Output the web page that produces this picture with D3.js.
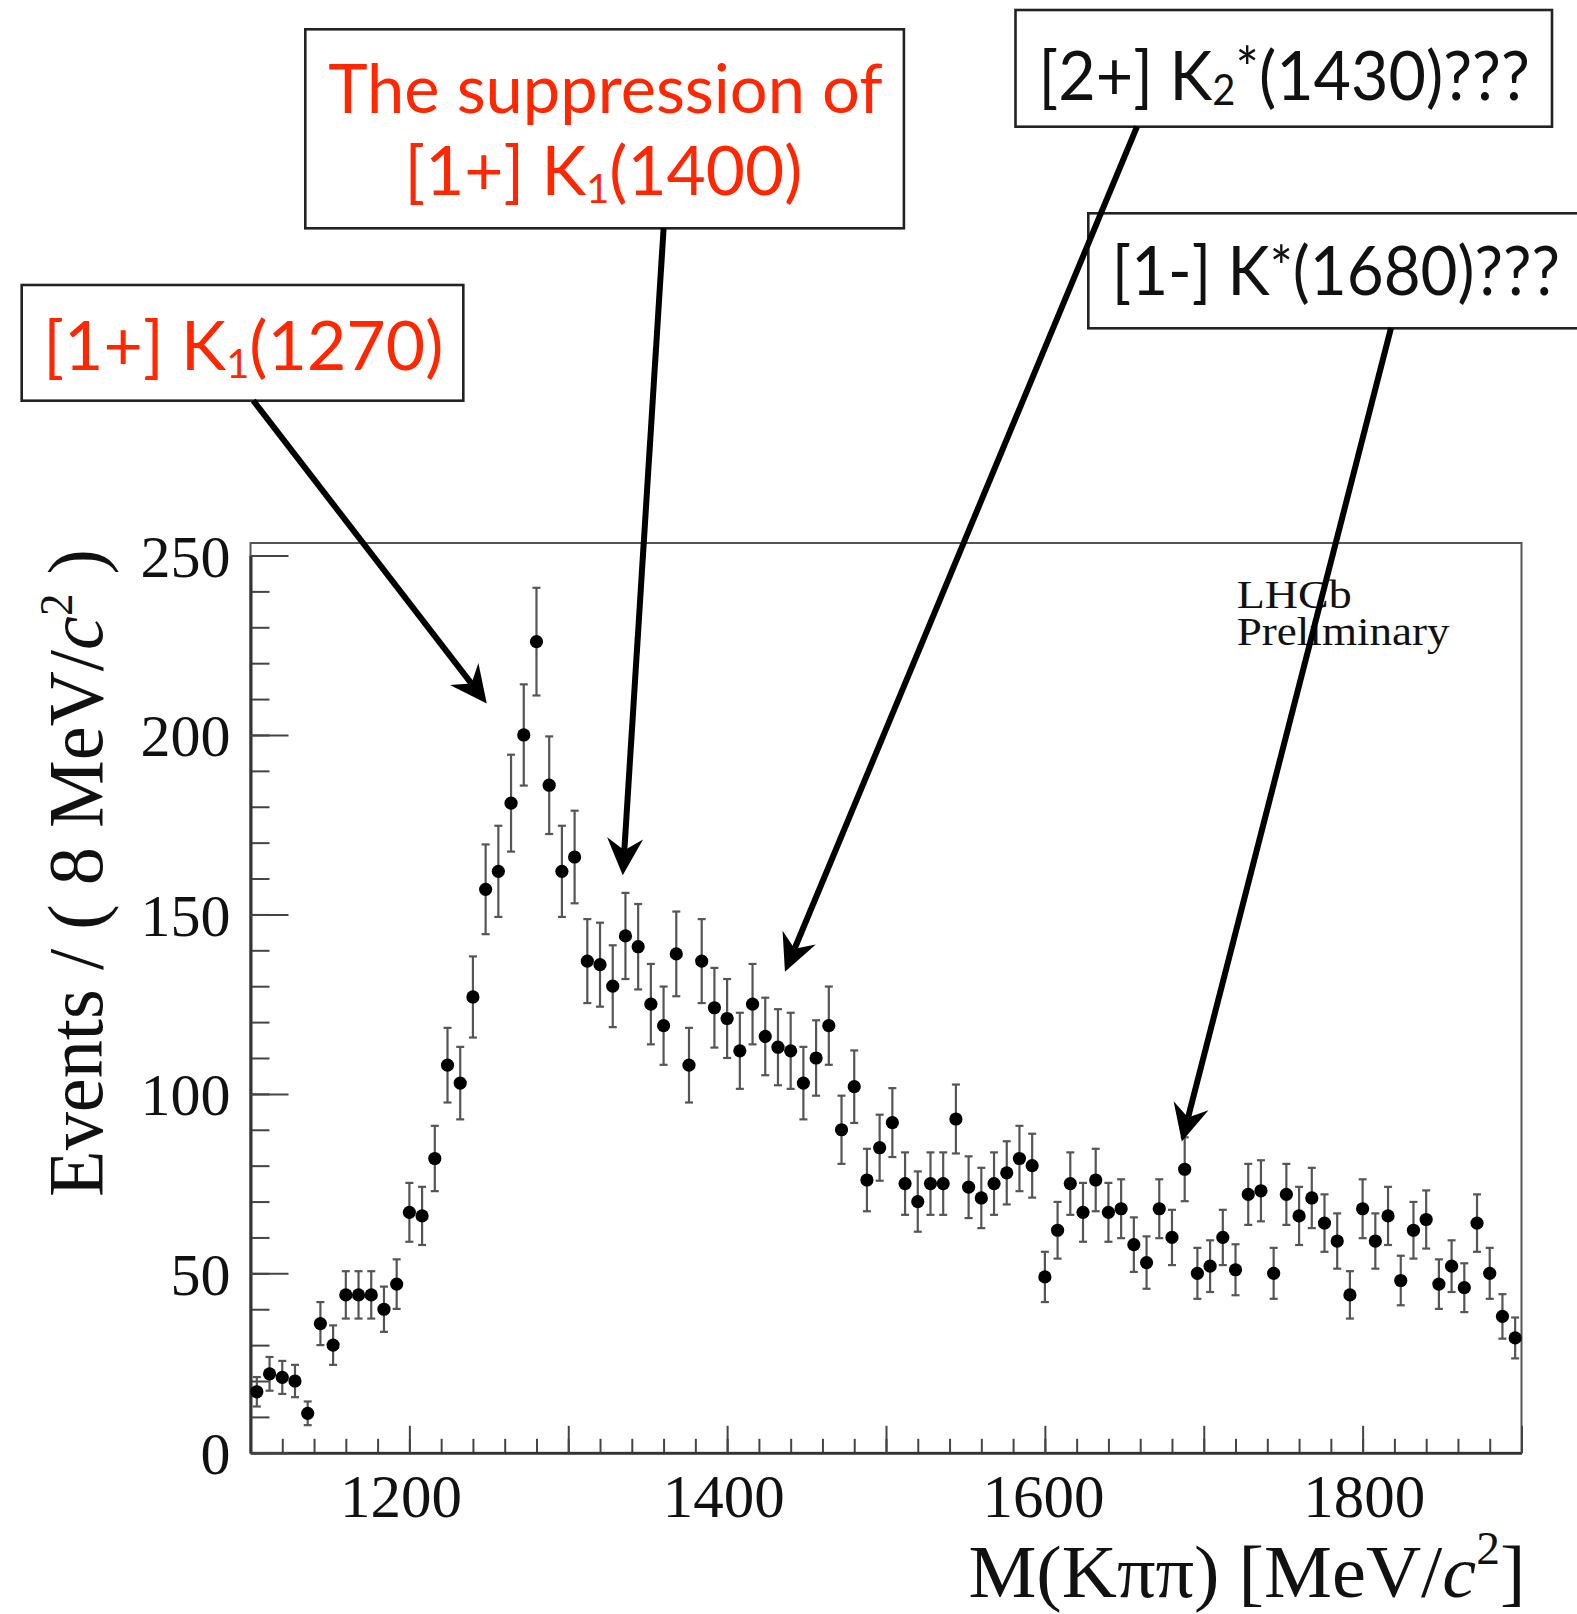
<!DOCTYPE html>
<html><head><meta charset="utf-8">
<script src="https://cdn.jsdelivr.net/npm/d3@7"></script>
<style>body{margin:0;background:#fff}</style>
</head><body>
<svg id="c" width="1577" height="1614" xmlns="http://www.w3.org/2000/svg"></svg>
<script>
// ---------- data ----------
const massBins = [1104,1112,1120,1128,1136,1144,1152,1160,1168,1176,
  1184,1192,1200,1208,1216,1224,1232,1240,1248,1256,
  1264,1272,1280,1288,1296,1304,1312,1320,1328,1336,
  1344,1352,1360,1368,1376,1384,1392,1400,1408,1416,
  1424,1432,1440,1448,1456,1464,1472,1480,1488,1496,
  1504,1512,1520,1528,1536,1544,1552,1560,1568,1576,
  1584,1592,1600,1608,1616,1624,1632,1640,1648,1656,
  1664,1672,1680,1688,1696,1704,1712,1720,1728,1736,
  1744,1752,1760,1768,1776,1784,1792,1800,1808,1816,
  1824,1832,1840,1848,1856,1864,1872,1880,1888,1896];
const events = [17,22,21,20,11,36,30,44,44,44,
  40,47,67,66,82,108,103,127,157,162,
  181,200,226,186,162,166,137,136,130,144,
  141,125,119,139,108,137,124,121,112,125,
  116,113,112,103,110,119,90,102,76,85,
  92,75,70,75,75,93,74,71,75,78,
  82,80,49,62,75,67,76,67,68,58,
  53,68,60,79,50,52,60,51,72,73,
  50,72,66,71,64,59,44,68,59,66,
  48,62,65,47,52,46,64,50,38,32];
const errors = [4.1,4.7,4.6,4.5,3.3,6.0,5.5,6.6,6.6,6.6,
  6.3,6.9,8.2,8.1,9.1,10.4,10.1,11.3,12.5,12.7,
  13.5,14.1,15.0,13.6,12.7,12.9,11.7,11.7,11.4,12.0,
  11.9,11.2,10.9,11.8,10.4,11.7,11.1,11.0,10.6,11.2,
  10.8,10.6,10.6,10.1,10.5,10.9,9.5,10.1,8.7,9.2,
  9.6,8.7,8.4,8.7,8.7,9.6,8.6,8.4,8.7,8.8,
  9.1,8.9,7.0,7.9,8.7,8.2,8.7,8.2,8.2,7.6,
  7.3,8.2,7.7,8.9,7.1,7.2,7.7,7.1,8.5,8.5,
  7.1,8.5,8.1,8.4,8.0,7.7,6.6,8.2,7.7,8.1,
  6.9,7.9,8.1,6.9,7.2,6.8,8.0,7.1,6.2,5.7];
const xTickLabels = [1200,1400,1600,1800];
const xMajorTicks = [1100,1200,1300,1400,1500,1600,1700,1800,1900];
const yTickLabels = [0,50,100,150,200,250];
const watermark = ["LHCb","Preliminary"];
// annotation arrows: tips given in data coordinates (mass, events)
const annTipMass = [1248.7, 1334.3, 1436.4, 1686.2];
const annTipEvents = [208.8, 160.9, 134.0, 86.7];

// ---------- layout ----------
const svg = d3.select("#c");
svg.append("rect").attr("width",1577).attr("height",1614).attr("fill","#fff");
const L = 250.5, R = 1521.5, B = 1452.8, T = 543;
const x = d3.scaleLinear().domain([1100,1900]).range([L,R]);
const y = d3.scaleLinear().domain([0,250]).range([B,555.5]);
const serif = "'Liberation Serif','Times New Roman',serif";
const sans = "Lato,'Open Sans',sans-serif";

// frame
svg.append("rect").attr("x",L).attr("y",T).attr("width",R-L).attr("height",B-T)
  .attr("fill","none").attr("stroke","#555").attr("stroke-width",2);

// axes
const gx = svg.append("g").attr("transform",`translate(0,${B})`);
gx.call(d3.axisBottom(x).tickValues(x.ticks(40)).tickSize(-14).tickSizeOuter(0).tickFormat(""));
const gx2 = svg.append("g").attr("transform",`translate(0,${B})`);
gx2.call(d3.axisBottom(x).tickValues(xMajorTicks).tickSize(-27).tickSizeOuter(0)
  .tickPadding(21).tickFormat(d => xTickLabels.includes(d) ? String(d) : ""));
const gy = svg.append("g").attr("transform",`translate(${L},0)`);
gy.call(d3.axisLeft(y).tickValues(y.ticks(25)).tickSize(-19).tickSizeOuter(0).tickFormat(""));
const gy2 = svg.append("g").attr("transform",`translate(${L},0)`);
gy2.call(d3.axisLeft(y).tickValues(yTickLabels).tickSize(-38).tickSizeOuter(0).tickPadding(20).tickFormat(d=>String(d)));
svg.selectAll(".domain").attr("stroke","#333").attr("stroke-width",2.6);
svg.selectAll(".tick line").attr("stroke","#444").attr("stroke-width",2);
const xLabelShift = {1200:-9, 1400:-4, 1600:-2, 1800:1};
gx2.selectAll("text").attr("font-family",serif).attr("font-size",61).attr("fill","#111").attr("dy","0.71em")
  .attr("dx", d => xLabelShift[d] || 0);
gy2.selectAll("text").attr("font-family",serif).attr("font-size",60).attr("fill","#111").attr("dy","0.35em");

// data: error bars + points
const pts = svg.append("g");
massBins.forEach((m,i) => {
  const cx = x(m), v = events[i], e = errors[i];
  const y1 = y(v+e), y2 = y(v-e);
  pts.append("line").attr("x1",cx).attr("x2",cx).attr("y1",y1).attr("y2",y2)
    .attr("stroke","#555").attr("stroke-width",2.2);
  [y1,y2].forEach(yy => pts.append("line").attr("x1",cx-4).attr("x2",cx+4).attr("y1",yy).attr("y2",yy)
    .attr("stroke","#555").attr("stroke-width",2.2));
});
pts.selectAll("circle").data(massBins).join("circle")
  .attr("cx",d=>x(d)).attr("cy",(d,i)=>y(events[i])).attr("r",6.6).attr("fill","#000");

// watermark (one text block, two lines)
const wmt = svg.append("text").attr("font-family",serif).attr("font-size",39).attr("fill","#111");
wmt.append("tspan").attr("x",1236.7).attr("y",608.3).attr("textLength",115).attr("lengthAdjust","spacingAndGlyphs").text(watermark[0]);
wmt.append("tspan").attr("x",1236.7).attr("y",645).attr("textLength",213).attr("lengthAdjust","spacingAndGlyphs").text(watermark[1]);

// axis titles
function richText(sel, parts){
  parts.forEach(p=>{
    const ts = sel.append("tspan").text(p.t);
    if(p.fs) ts.attr("font-size",p.fs);
    if(p.dy) ts.attr("dy",p.dy);
    if(p.it) ts.attr("font-style","italic");
  });
}
const xt = svg.append("text").attr("x",968.4).attr("y",1597).attr("font-family",serif)
  .attr("font-size",74).attr("fill","#111").attr("textLength",557).attr("lengthAdjust","spacingAndGlyphs");
richText(xt, [{t:"M(Kππ) [MeV/"},{t:"c",it:1},{t:"2",fs:46,dy:-33},{t:"]",fs:74,dy:33}]);
const yt = svg.append("text").attr("transform","translate(101.7,873) rotate(-90)").attr("text-anchor","middle")
  .attr("font-family",serif).attr("font-size",78).attr("fill","#111").attr("textLength",648).attr("lengthAdjust","spacingAndGlyphs");
richText(yt, [{t:"Events / ( 8 MeV/"},{t:"c",it:1},{t:"2",fs:46,dy:-30},{t:" )",fs:78,dy:30}]);

// annotation boxes
const boxes = [
  {x:21.7,y:285,w:441.6,h:115.7},
  {x:305.3,y:29.3,w:598.6,h:199},
  {x:1015.5,y:10,w:536.5,h:116.7},
  {x:1088.3,y:213.3,w:520,h:115}
];
const ann = svg.append("g");
boxes.forEach(b => ann.append("rect").attr("x",b.x).attr("y",b.y).attr("width",b.w).attr("height",b.h)
  .attr("fill","#fff").attr("stroke","#222").attr("stroke-width",2.6));
const red = "#ff2600";
function annText(xp, yp, len, color, parts){
  const t = ann.append("text").attr("x",xp).attr("y",yp).attr("font-family",sans).attr("font-size",68)
    .attr("fill",color).attr("textLength",len).attr("lengthAdjust","spacingAndGlyphs");
  richText(t, parts);
}
annText(43.3,370,400,red,[{t:"[1+] K"},{t:"1",fs:40,dy:8},{t:"(1270)",fs:68,dy:-8}]);
annText(328.2,112.7,554.4,red,[{t:"The suppression of"}]);
annText(404.5,195,397.7,red,[{t:"[1+] K"},{t:"1",fs:40,dy:8},{t:"(1400)",fs:68,dy:-8}]);
annText(1038.6,100,491.3,"#111",[{t:"[2+] K"},{t:"2",fs:42,dy:5},{t:"*",fs:58,dy:-16},{t:"(1430)???",fs:68,dy:11}]);
annText(1111.7,295,448.3,"#111",[{t:"[1-] K"},{t:"*",fs:58,dy:-7},{t:"(1680)???",fs:68,dy:7}]);

// arrows
const starts = [[253.3,400.7],[663.6,228.3],[1137,126.7],[1391,328]];
const arr = svg.append("g");
starts.forEach((s,i)=>{
  const tx = x(annTipMass[i]), ty = y(annTipEvents[i]);
  const dx = tx-s[0], dy = ty-s[1], len = Math.hypot(dx,dy);
  const ux = dx/len, uy = dy/len, px = -uy, py = ux;
  const back = 37, half = 18, notch = 25;
  arr.append("line").attr("x1",s[0]).attr("y1",s[1]).attr("x2",tx-ux*notch).attr("y2",ty-uy*notch)
    .attr("stroke","#000").attr("stroke-width",6);
  const p = [[tx,ty],[tx-ux*back+px*half, ty-uy*back+py*half],[tx-ux*notch, ty-uy*notch],[tx-ux*back-px*half, ty-uy*back-py*half]];
  arr.append("path").attr("d","M"+p.map(q=>q.join(",")).join("L")+"Z").attr("fill","#000");
});
</script>
</body></html>
